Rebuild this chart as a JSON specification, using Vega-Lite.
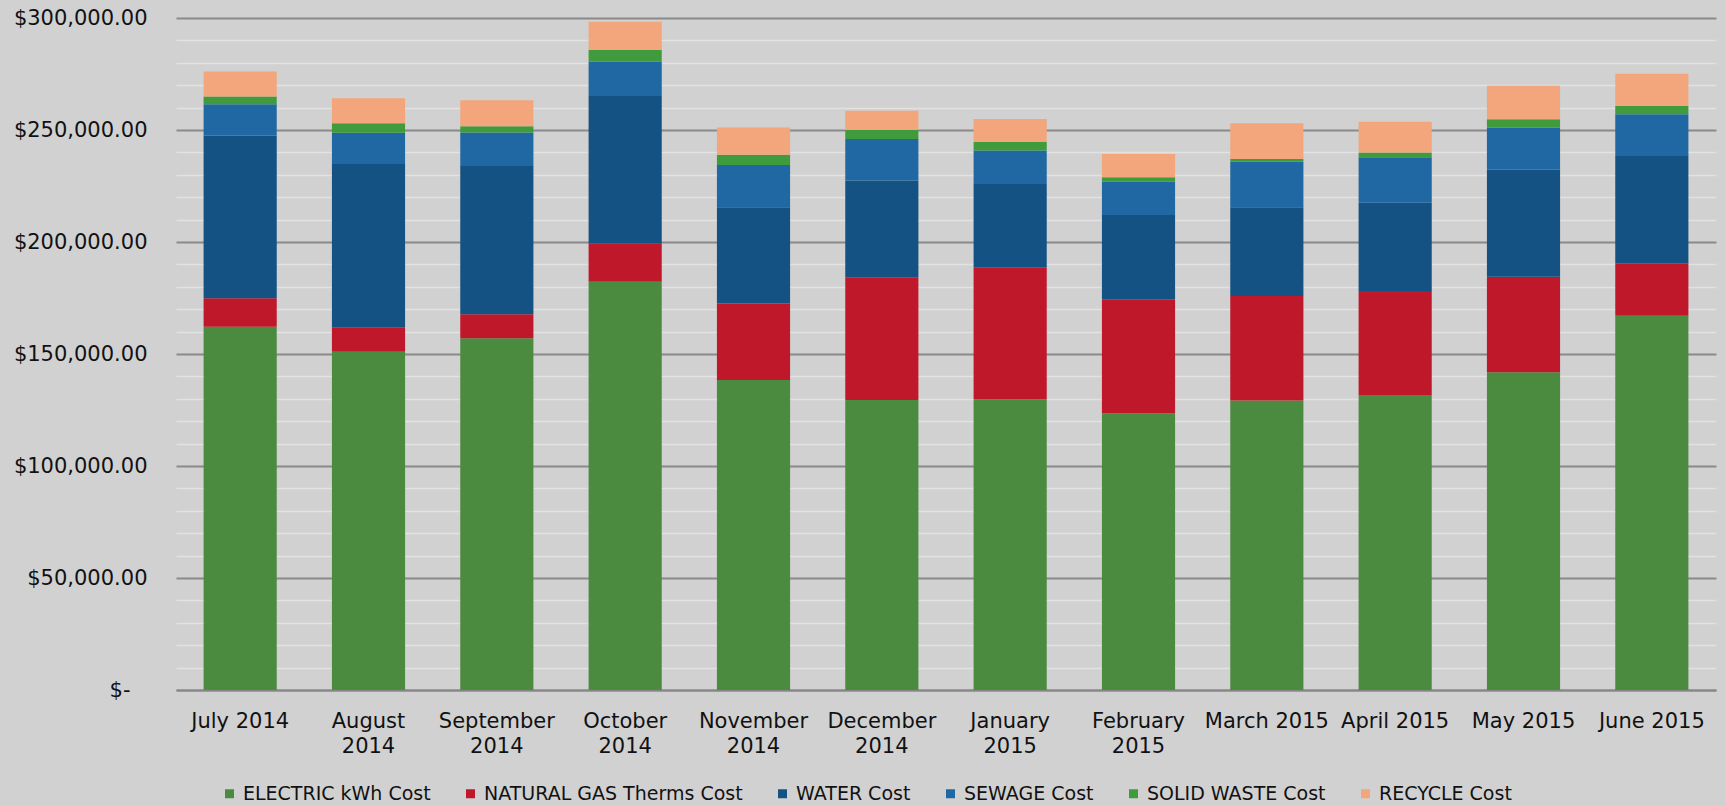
{
  "$schema": "https://vega.github.io/schema/vega-lite/v6.json",
  "autosize": {"type": "none"},
  "width": 1540,
  "height": 672,
  "padding": {"left": 176, "top": 18, "right": 9, "bottom": 116},
  "background": "#d1d1d1",
  "config": {
    "view": {"stroke": null},
    "font": "DejaVu Sans"
  },
  "data": {
    "values": [
      {"month": "July 2014", "series": "ELECTRIC kWh Cost", "cost": 162200},
      {"month": "July 2014", "series": "NATURAL GAS Therms Cost", "cost": 12700},
      {"month": "July 2014", "series": "WATER Cost", "cost": 72600},
      {"month": "July 2014", "series": "SEWAGE Cost", "cost": 14000},
      {"month": "July 2014", "series": "SOLID WASTE Cost", "cost": 3400},
      {"month": "July 2014", "series": "RECYCLE Cost", "cost": 11200},
      {"month": "August 2014", "series": "ELECTRIC kWh Cost", "cost": 151000},
      {"month": "August 2014", "series": "NATURAL GAS Therms Cost", "cost": 10900},
      {"month": "August 2014", "series": "WATER Cost", "cost": 72900},
      {"month": "August 2014", "series": "SEWAGE Cost", "cost": 14000},
      {"month": "August 2014", "series": "SOLID WASTE Cost", "cost": 4200},
      {"month": "August 2014", "series": "RECYCLE Cost", "cost": 11200},
      {"month": "September 2014", "series": "ELECTRIC kWh Cost", "cost": 157000},
      {"month": "September 2014", "series": "NATURAL GAS Therms Cost", "cost": 10800},
      {"month": "September 2014", "series": "WATER Cost", "cost": 66100},
      {"month": "September 2014", "series": "SEWAGE Cost", "cost": 15000},
      {"month": "September 2014", "series": "SOLID WASTE Cost", "cost": 2800},
      {"month": "September 2014", "series": "RECYCLE Cost", "cost": 11600},
      {"month": "October 2014", "series": "ELECTRIC kWh Cost", "cost": 182300},
      {"month": "October 2014", "series": "NATURAL GAS Therms Cost", "cost": 17100},
      {"month": "October 2014", "series": "WATER Cost", "cost": 65800},
      {"month": "October 2014", "series": "SEWAGE Cost", "cost": 15300},
      {"month": "October 2014", "series": "SOLID WASTE Cost", "cost": 5200},
      {"month": "October 2014", "series": "RECYCLE Cost", "cost": 12600},
      {"month": "November 2014", "series": "ELECTRIC kWh Cost", "cost": 138400},
      {"month": "November 2014", "series": "NATURAL GAS Therms Cost", "cost": 34200},
      {"month": "November 2014", "series": "WATER Cost", "cost": 42900},
      {"month": "November 2014", "series": "SEWAGE Cost", "cost": 18900},
      {"month": "November 2014", "series": "SOLID WASTE Cost", "cost": 4500},
      {"month": "November 2014", "series": "RECYCLE Cost", "cost": 12200},
      {"month": "December 2014", "series": "ELECTRIC kWh Cost", "cost": 129500},
      {"month": "December 2014", "series": "NATURAL GAS Therms Cost", "cost": 54800},
      {"month": "December 2014", "series": "WATER Cost", "cost": 43100},
      {"month": "December 2014", "series": "SEWAGE Cost", "cost": 18600},
      {"month": "December 2014", "series": "SOLID WASTE Cost", "cost": 4000},
      {"month": "December 2014", "series": "RECYCLE Cost", "cost": 8600},
      {"month": "January 2015", "series": "ELECTRIC kWh Cost", "cost": 129800},
      {"month": "January 2015", "series": "NATURAL GAS Therms Cost", "cost": 58900},
      {"month": "January 2015", "series": "WATER Cost", "cost": 37200},
      {"month": "January 2015", "series": "SEWAGE Cost", "cost": 14900},
      {"month": "January 2015", "series": "SOLID WASTE Cost", "cost": 3800},
      {"month": "January 2015", "series": "RECYCLE Cost", "cost": 10300},
      {"month": "February 2015", "series": "ELECTRIC kWh Cost", "cost": 123500},
      {"month": "February 2015", "series": "NATURAL GAS Therms Cost", "cost": 50900},
      {"month": "February 2015", "series": "WATER Cost", "cost": 37600},
      {"month": "February 2015", "series": "SEWAGE Cost", "cost": 14900},
      {"month": "February 2015", "series": "SOLID WASTE Cost", "cost": 2000},
      {"month": "February 2015", "series": "RECYCLE Cost", "cost": 10400},
      {"month": "March 2015", "series": "ELECTRIC kWh Cost", "cost": 129200},
      {"month": "March 2015", "series": "NATURAL GAS Therms Cost", "cost": 46700},
      {"month": "March 2015", "series": "WATER Cost", "cost": 39600},
      {"month": "March 2015", "series": "SEWAGE Cost", "cost": 20400},
      {"month": "March 2015", "series": "SOLID WASTE Cost", "cost": 1200},
      {"month": "March 2015", "series": "RECYCLE Cost", "cost": 15900},
      {"month": "April 2015", "series": "ELECTRIC kWh Cost", "cost": 131700},
      {"month": "April 2015", "series": "NATURAL GAS Therms Cost", "cost": 46400},
      {"month": "April 2015", "series": "WATER Cost", "cost": 39400},
      {"month": "April 2015", "series": "SEWAGE Cost", "cost": 20300},
      {"month": "April 2015", "series": "SOLID WASTE Cost", "cost": 2100},
      {"month": "April 2015", "series": "RECYCLE Cost", "cost": 13800},
      {"month": "May 2015", "series": "ELECTRIC kWh Cost", "cost": 141800},
      {"month": "May 2015", "series": "NATURAL GAS Therms Cost", "cost": 42700},
      {"month": "May 2015", "series": "WATER Cost", "cost": 47900},
      {"month": "May 2015", "series": "SEWAGE Cost", "cost": 18600},
      {"month": "May 2015", "series": "SOLID WASTE Cost", "cost": 3800},
      {"month": "May 2015", "series": "RECYCLE Cost", "cost": 14900},
      {"month": "June 2015", "series": "ELECTRIC kWh Cost", "cost": 167100},
      {"month": "June 2015", "series": "NATURAL GAS Therms Cost", "cost": 23400},
      {"month": "June 2015", "series": "WATER Cost", "cost": 47900},
      {"month": "June 2015", "series": "SEWAGE Cost", "cost": 18600},
      {"month": "June 2015", "series": "SOLID WASTE Cost", "cost": 3700},
      {"month": "June 2015", "series": "RECYCLE Cost", "cost": 14400}
    ]
  },
  "transform": [
    {"calculate": "indexof(['ELECTRIC kWh Cost','NATURAL GAS Therms Cost','WATER Cost','SEWAGE Cost','SOLID WASTE Cost','RECYCLE Cost'], datum.series)", "as": "stackIndex"}
  ],
  "mark": {"type": "bar"},
  "encoding": {
    "x": {
      "field": "month",
      "type": "nominal",
      "sort": null,
      "scale": {"paddingInner": 0.43, "paddingOuter": 0.215},
      "axis": {
        "title": null,
        "labelAngle": 0,
        "labelFontSize": 21,
        "labelColor": "#111111",
        "labelPadding": 20,
        "labelLineHeight": 25,
        "labelLimit": 300,
        "labelExpr": "length(datum.label) > 10 ? split(datum.label, ' ') : datum.label",
        "ticks": false,
        "domain": true,
        "domainColor": "#888888",
        "domainWidth": 2,
        "grid": false
      }
    },
    "y": {
      "field": "cost",
      "type": "quantitative",
      "aggregate": "sum",
      "stack": "zero",
      "scale": {"domain": [0, 300000], "nice": false},
      "axis": {
        "title": null,
        "values": [0, 10000, 20000, 30000, 40000, 50000, 60000, 70000, 80000, 90000, 100000, 110000, 120000, 130000, 140000, 150000, 160000, 170000, 180000, 190000, 200000, 210000, 220000, 230000, 240000, 250000, 260000, 270000, 280000, 290000, 300000],
        "labelExpr": "datum.value % 50000 === 0 ? (datum.value === 0 ? '$-' : '$' + format(datum.value, ',.2f')) : ''",
        "labelFontSize": 21,
        "labelColor": "#111111",
        "labelPadding": {"condition": {"test": "datum.value === 0", "value": 46}, "value": 29},
        "ticks": false,
        "domain": false,
        "grid": true,
        "gridColor": {"condition": {"test": "datum.value % 50000 === 0", "value": "#8a8a8a"}, "value": "#e2e2e2"},
        "gridWidth": {"condition": {"test": "datum.value % 50000 === 0", "value": 2}, "value": 1.5}
      }
    },
    "color": {
      "field": "series",
      "type": "nominal",
      "sort": ["ELECTRIC kWh Cost", "NATURAL GAS Therms Cost", "WATER Cost", "SEWAGE Cost", "SOLID WASTE Cost", "RECYCLE Cost"],
      "scale": {
        "domain": ["ELECTRIC kWh Cost", "NATURAL GAS Therms Cost", "WATER Cost", "SEWAGE Cost", "SOLID WASTE Cost", "RECYCLE Cost"],
        "range": ["#4b8b40", "#c0182b", "#135283", "#2068a4", "#3f9b3c", "#f3a57c"]
      },
      "legend": {
        "title": null,
        "orient": "bottom",
        "direction": "horizontal",
        "offset": -16,
        "padding": 44,
        "symbolType": "square",
        "symbolSize": 81,
        "symbolStrokeWidth": 0,
        "labelFontSize": 19,
        "labelColor": "#111111",
        "labelOffset": 4,
        "labelLimit": 400,
        "columnPadding": 30
      }
    },
    "order": {"field": "stackIndex", "type": "quantitative", "sort": "ascending"}
  }
}
